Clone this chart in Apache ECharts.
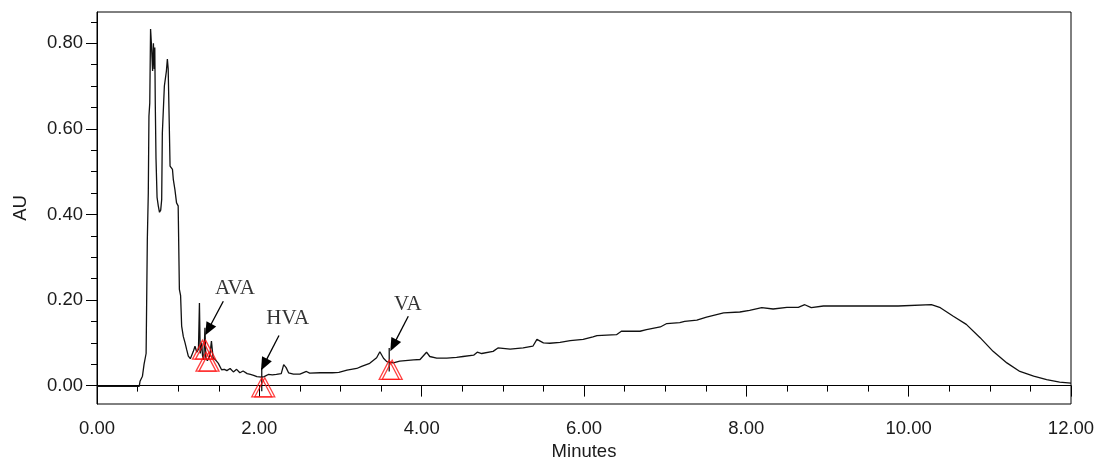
<!DOCTYPE html>
<html>
<head>
<meta charset="utf-8">
<script src="https://cdn.jsdelivr.net/npm/echarts@6/dist/echarts.min.js"></script>
<style>
html,body{margin:0;padding:0;background:#fff;}
#chart{width:1097px;height:457px;}
</style>
</head>
<body>
<div id="chart"></div>
<script>
// Chromatogram trace: time (minutes) and absorbance (AU)
var times = [0.00,0.52,0.53,0.56,0.58,0.605,0.62,0.632,0.64,0.65,0.66,0.67,0.685,0.695,0.705,0.712,0.718,0.727,0.74,0.755,0.77,0.785,0.797,0.805,0.83,0.855,0.867,0.877,0.89,0.90,0.93,0.94,0.96,0.98,1.00,1.015,1.03,1.043,1.063,1.085,1.105,1.125,1.15,1.17,1.187,1.207,1.23,1.25,1.262,1.272,1.29,1.30,1.315,1.33,1.34,1.36,1.39,1.41,1.43,1.46,1.495,1.535,1.57,1.60,1.64,1.68,1.72,1.76,1.80,1.85,1.89,1.93,1.97,2.03,2.06,2.11,2.16,2.21,2.27,2.30,2.33,2.36,2.42,2.50,2.58,2.62,2.75,2.90,2.98,3.08,3.20,3.26,3.36,3.445,3.485,3.53,3.57,3.65,3.73,3.90,3.98,4.06,4.10,4.185,4.31,4.43,4.51,4.64,4.685,4.74,4.88,4.94,5.09,5.25,5.37,5.42,5.50,5.58,5.705,5.83,5.99,6.11,6.16,6.40,6.46,6.69,6.77,6.94,7.02,7.18,7.24,7.39,7.51,7.72,7.92,8.04,8.19,8.33,8.50,8.64,8.72,8.80,8.95,9.20,9.87,9.89,10.28,10.39,10.55,10.71,10.88,11.04,11.21,11.37,11.54,11.70,11.86,12.00];
var absorbance = [-0.002,-0.002,0.010,0.022,0.050,0.075,0.34,0.45,0.63,0.66,0.833,0.80,0.735,0.80,0.74,0.79,0.66,0.53,0.44,0.42,0.405,0.41,0.435,0.59,0.70,0.735,0.763,0.74,0.614,0.513,0.505,0.482,0.458,0.427,0.42,0.225,0.21,0.139,0.115,0.10,0.084,0.069,0.063,0.065,0.080,0.092,0.078,0.085,0.193,0.075,0.10,0.07,0.06,0.135,0.065,0.058,0.07,0.104,0.065,0.06,0.052,0.037,0.038,0.035,0.040,0.032,0.038,0.030,0.034,0.028,0.026,0.024,0.021,0.020,0.021,0.026,0.025,0.026,0.028,0.049,0.042,0.030,0.027,0.027,0.033,0.029,0.030,0.030,0.031,0.036,0.040,0.045,0.052,0.065,0.079,0.064,0.056,0.053,0.057,0.060,0.061,0.078,0.068,0.064,0.064,0.066,0.068,0.071,0.078,0.075,0.080,0.088,0.085,0.088,0.092,0.108,0.100,0.099,0.101,0.105,0.108,0.114,0.117,0.119,0.127,0.127,0.131,0.137,0.145,0.147,0.150,0.153,0.160,0.170,0.172,0.176,0.182,0.179,0.183,0.183,0.189,0.182,0.186,0.186,0.186,0.189,0.189,0.182,0.162,0.143,0.112,0.080,0.053,0.033,0.022,0.014,0.008,0.006];

// Peak markers (triangles)
var markerTimes = [1.30, 1.343, 2.03, 3.60];
var markerValues = [0.084, 0.056, -0.004, 0.037];

// Peak tick lines: time, bottom, top
var tickTimes = [2.03, 3.60];
var tickLow = [-0.013, 0.033];
var tickHigh = [0.041, 0.088];

// Peak labels
var labelNames = ['AVA', 'HVA', 'VA'];
var labelTimes = [1.70, 2.35, 3.83];
var labelValues = [0.227, 0.156, 0.190];

// Arrows: start (t,v) -> end (t,v)
var arrowStartT = [1.556, 2.242, 3.835];
var arrowStartV = [0.197, 0.117, 0.162];
var arrowEndT = [1.371, 2.057, 3.65];
var arrowEndV = [0.131, 0.049, 0.094];

// Axis ticks
var xTickStep = 2;
var yLabelValues = [0, 0.2, 0.4, 0.6, 0.8];
var yMinorTickValues = [0.05,0.10,0.15,0.25,0.30,0.35,0.45,0.50,0.55,0.65,0.70,0.75,0.85];

var trace = times.map(function(t, i){ return [t, absorbance[i]]; });
var markers = markerTimes.map(function(t, i){ return [t, markerValues[i]]; });
var labels = labelNames.map(function(n, i){ return {name: n, value: [labelTimes[i], labelValues[i]]}; });
var arrows = arrowStartT.map(function(t, i){
  return [{coord: [t, arrowStartV[i]]}, {coord: [arrowEndT[i], arrowEndV[i]]}];
});
var tickSeries = tickTimes.map(function(t, i){
  return {
    type: 'line', data: [[t, tickLow[i]], [t, tickHigh[i]]],
    symbol: 'none', lineStyle: {color: '#000', width: 1.2}, z: 4, silent: true
  };
});

var axisFont = {fontFamily: 'Liberation Sans, Arial, sans-serif', fontSize: 18.5, color: '#1a1a1a'};
var yMin = -0.043, yMax = 0.873;

var chart = echarts.init(document.getElementById('chart'), null, {renderer: 'canvas'});
var option = {
  animation: false,
  backgroundColor: '#fff',
  grid: {left: 97, right: 26, top: 12, bottom: 53, show: true, borderColor: '#000', borderWidth: 1,
         containLabel: false, outerBoundsMode: 'none'},
  xAxis: {
    type: 'value', min: 0, max: 12, interval: xTickStep,
    name: 'Minutes', nameLocation: 'middle', nameGap: 38,
    nameTextStyle: axisFont,
    axisLine: {show: true, lineStyle: {color: '#000', width: 1}},
    axisTick: {show: true, length: 11, lineStyle: {color: '#000'}},
    minorTick: {show: true, splitNumber: 4, length: 6, lineStyle: {color: '#000'}},
    splitLine: {show: false}, minorSplitLine: {show: false},
    axisLabel: Object.assign({margin: 15, formatter: function(v){ return v.toFixed(2); }}, axisFont)
  },
  yAxis: [{
    type: 'value', min: yMin, max: yMax,
    name: 'AU', nameLocation: 'middle', nameGap: 67, nameRotate: 90,
    nameTextStyle: axisFont,
    axisLine: {show: true, lineStyle: {color: '#000', width: 1}},
    axisTick: {show: true, length: 11, customValues: yLabelValues, lineStyle: {color: '#000'}},
    splitLine: {show: false},
    axisLabel: Object.assign({margin: 14, customValues: yLabelValues, formatter: function(v){ return v.toFixed(2); }}, axisFont)
  }, {
    type: 'value', min: yMin, max: yMax, position: 'left',
    axisLine: {show: false},
    axisTick: {show: true, length: 6, customValues: yMinorTickValues, lineStyle: {color: '#000'}},
    axisLabel: {show: false}, splitLine: {show: false}
  }],
  series: [
    {
      type: 'line', data: trace, symbol: 'none', z: 3,
      lineStyle: {color: '#111', width: 1.3}
    },
    {
      type: 'scatter', data: markers, symbol: 'triangle', symbolSize: [20, 19], z: 5,
      itemStyle: {color: 'rgba(0,0,0,0)', borderColor: '#ff1010', borderWidth: 1.3}
    },
    {
      type: 'scatter', data: markers, symbol: 'triangle', symbolSize: [20, 19], symbolOffset: [3, 0], z: 5,
      itemStyle: {color: 'rgba(0,0,0,0)', borderColor: '#ff1010', borderWidth: 1.3}
    },
    {
      type: 'scatter', data: labels, symbolSize: 0, z: 6,
      label: {show: true, position: 'inside', formatter: '{b}', color: '#000',
        fontFamily: 'Liberation Serif, Times New Roman, serif', fontSize: 21}
    },
    {
      type: 'line', data: [], symbol: 'none',
      markLine: {
        silent: true, symbol: ['none', 'triangle'], symbolSize: [11, 13],
        label: {show: false},
        lineStyle: {color: '#000', width: 1.3, type: 'solid'},
        data: arrows
      }
    }
  ].concat(tickSeries)
};
chart.setOption(option);
</script>
</body>
</html>
